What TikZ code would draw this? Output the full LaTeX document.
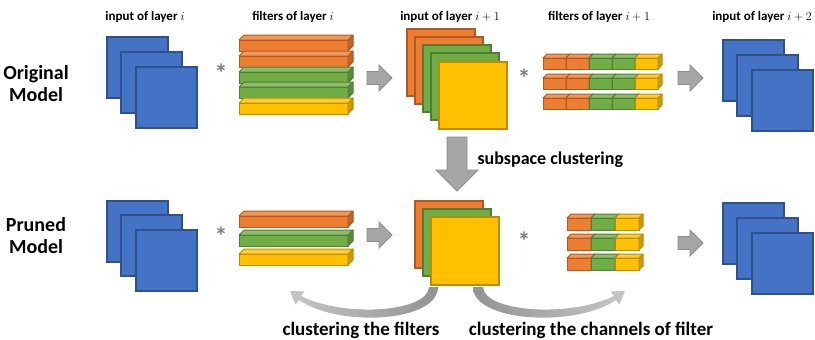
\documentclass[tikz,border=0pt]{standalone}
\usepackage{fontspec}
\setmainfont{Carlito}
\definecolor{blueF}{HTML}{4472C4}\definecolor{blueD}{HTML}{2F528F}
\definecolor{orangeF}{HTML}{ED7D31}\definecolor{orangeD}{HTML}{AE5A21}
\definecolor{greenF}{HTML}{70AD47}\definecolor{greenD}{HTML}{507E32}
\definecolor{yellowF}{HTML}{FFC000}\definecolor{yellowD}{HTML}{BC8C00}
\definecolor{arrF}{HTML}{A6A6A6}\definecolor{arrD}{HTML}{8C8C8C}
\definecolor{starC}{HTML}{7F7F7F}
\newcommand\sqr[5]{% x y w h color
  \filldraw[fill=#5F,draw=#5D,line width=1.2pt] (#1,#2) rectangle ++(#3,#4);}
\newcommand\cub[6]{% x y w h d color
  \filldraw[fill=#6F,draw=#6D,line width=1pt,line join=round] (#1,#2) rectangle ++(#3,#4);
  \filldraw[fill=#6F!80!white,draw=#6D,line width=1pt,line join=round] (#1,#2) -- ++(#5,-#5) -- ++(#3,0) -- ++(-#5,#5) -- cycle;
  \filldraw[fill=#6F!80!black,draw=#6D,line width=1pt,line join=round] ({#1+#3},#2) -- ++(#5,-#5) -- ++(0,#4) -- ++(-#5,#5) -- cycle;}
\newcommand\rarr[2]{%
  \filldraw[fill=arrF,draw=arrD,line width=0.8pt] (#1,{#2-6.5}) -- ({#1+12},{#2-6.5}) -- ({#1+12},{#2-13}) -- ({#1+25},#2) -- ({#1+12},{#2+13}) -- ({#1+12},{#2+6.5}) -- (#1,{#2+6.5}) -- cycle;}
\tikzset{
  toplab/.style={font=\fontsize{13}{15}\selectfont\bfseries,anchor=base},
  modlab/.style={font=\fontsize{20}{22}\selectfont\bfseries,align=center,anchor=base},
  arrlab/.style={font=\fontsize{19}{22}\selectfont\bfseries,anchor=base},
  starlab/.style={font=\fontsize{26}{26}\selectfont\bfseries,text=starC,inner sep=0pt,anchor=north},
}
\begin{document}
\begin{tikzpicture}[x=1pt,y=-1pt]
\useasboundingbox (0,0) rectangle (815,340);
% labels
\node[toplab] (l1) at (145,20) {input of layer $i$};
\node[toplab] (l2) at (293,20) {filters of layer $i$};
\node[toplab] (l3) at (450,20) {input of layer $i+1$};
\node[toplab] (l4) at (599,20) {filters of layer $i+1$};
\node[toplab] (l5) at (762,20) {input of layer $i+2$};
\node[modlab] (m1) at (36,101) {Original\\Model};
\node[modlab] (m2) at (36,253) {Pruned\\Model};
% ---------- original row
\sqr{107}{37}{61}{61}{blue}
\sqr{121}{52}{61}{61}{blue}
\sqr{136}{67}{61}{61}{blue}
\node[starlab] (s1) at (221,64) {*};
\cub{239}{40}{109}{11}{5}{orange}
\cub{239}{56}{109}{11}{5}{orange}
\cub{239}{72}{109}{11}{5}{green}
\cub{239}{87}{109}{11}{5}{green}
\cub{239}{103}{109}{11}{5}{yellow}
\rarr{367}{78}
\sqr{407}{29}{68}{67}{orange}
\sqr{415}{37}{68}{67}{orange}
\sqr{423}{45}{68}{67}{green}
\sqr{431}{53}{68}{67}{green}
\sqr{439}{62}{68}{67}{yellow}
\node[starlab] (s2) at (524,69) {*};
\foreach \yy in {58,78,98}{
  \cub{543}{\yy}{23}{11}{4}{orange}
  \cub{566}{\yy}{23}{11}{4}{orange}
  \cub{589}{\yy}{23}{11}{4}{green}
  \cub{612}{\yy}{23}{11}{4}{green}
  \cub{635}{\yy}{23}{11}{4}{yellow}
}
\rarr{678}{78}
\sqr{723}{40}{61}{61}{blue}
\sqr{737}{55}{61}{61}{blue}
\sqr{752}{70}{61}{61}{blue}
% ---------- down arrow
\filldraw[fill=arrF,draw=arrD,line width=0.8pt] (447,137) -- (467,137) -- (467,170) -- (478,170) -- (457,191) -- (436,170) -- (447,170) -- cycle;
\node[arrlab,font=\fontsize{18}{20}\selectfont\bfseries,anchor=base west] (sc) at (474,164) {subspace clustering};
% ---------- pruned row
\sqr{107}{201}{61}{61}{blue}
\sqr{121}{215}{61}{61}{blue}
\sqr{136}{230}{61}{61}{blue}
\node[starlab] (s3) at (221,227) {*};
\cub{239}{216}{109}{11}{5}{orange}
\cub{239}{235}{109}{11}{5}{green}
\cub{239}{254}{109}{11}{5}{yellow}
\rarr{367}{235}
\sqr{415}{201}{68}{67}{orange}
\sqr{423}{209}{68}{67}{green}
\sqr{431}{217}{68}{68}{yellow}
\node[starlab] (s4) at (524,232) {*};
\foreach \yy in {218,238,258}{
  \cub{567}{\yy}{24}{12}{4}{orange}
  \cub{591}{\yy}{24}{12}{4}{green}
  \cub{615}{\yy}{24}{12}{4}{yellow}
}
\rarr{678}{243}
\sqr{723}{203}{61}{61}{blue}
\sqr{737}{218}{61}{61}{blue}
\sqr{752}{233}{61}{61}{blue}
% ---------- curved arrows
\shade[left color=gray!45,right color=gray!85]
  (429,287) .. controls (428,312) and (345,318) .. (301,296)
  -- (304.5,291.4) -- (290,291) -- (295.5,304.6) -- (299,300)
  .. controls (340,328) and (438,322) .. (438,287) -- cycle;
\shade[left color=gray!85,right color=gray!45]
  (483,287) .. controls (484,312) and (570,318) .. (614,296)
  -- (610.5,291.4) -- (625,291) -- (619.5,304.6) -- (616,300)
  .. controls (575,328) and (473,322) .. (473,287) -- cycle;
\node[arrlab] (c1) at (361,335) {clustering the filters};
\node[arrlab] (c2) at (591,335) {clustering the channels of filter};
\end{tikzpicture}
\end{document}
